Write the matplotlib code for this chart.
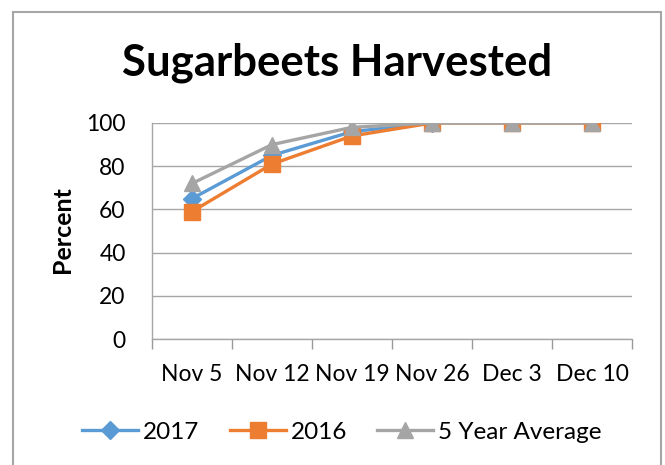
import matplotlib.pyplot as plt
import numpy as np
from matplotlib.patches import Rectangle

# weekly progress, percent harvested
weeks = ['Nov 5', 'Nov 12', 'Nov 19', 'Nov 26', 'Dec 3', 'Dec 10']
y2017 = [65, 85, 96, 100, np.nan, np.nan]
y2016 = [59, 81, 94, 100, 100, 100]
avg5 = [72, 90, 98, 100, 100, 100]
yticks = [0, 20, 40, 60, 80, 100]

plt.rcParams['font.family'] = ['Lato', 'DejaVu Sans']

fig = plt.figure(figsize=(6.65, 4.65), dpi=100)
ax = fig.add_axes([152/665, 1-339/465, 480/665, 216/465])

x = np.arange(len(weeks))
ax.plot(x, y2017, color='#5B9BD5', lw=2.4, marker='D', ms=9, label='2017', zorder=3)
ax.plot(x, y2016, color='#ED7D31', lw=2.4, marker='s', ms=11, label='2016', zorder=4)
ax.plot(x, avg5, color='#A5A5A5', lw=2.4, marker='^', ms=11.5, label='5 Year Average', zorder=5)

ax.set_xlim(-0.5, len(weeks) - 0.5)
ax.set_ylim(0, 100)
ax.set_yticks(yticks)
ax.set_xticks(x)
ax.set_xticklabels(weeks)
ax.set_xticks(np.arange(len(weeks) + 1) - 0.5, minor=True)
ax.tick_params(axis='x', which='major', length=0, pad=18, labelsize=16.5)
ax.tick_params(axis='x', which='minor', length=7, color='#999999', width=1)
ax.tick_params(axis='y', length=0, pad=19, labelsize=16.5)

ax.grid(axis='y', color='#A6A6A6', lw=1)
ax.set_axisbelow(True)
for s in ['top', 'right']:
    ax.spines[s].set_visible(False)
for s in ['left', 'bottom']:
    ax.spines[s].set_color('#A6A6A6')
    ax.spines[s].set_linewidth(1)

fig.text(337/665, 1-63/465, 'Sugarbeets Harvested', ha='center', va='center',
         fontsize=31.5, fontweight='bold')
fig.text(63/665, 1-230/465, 'Percent', ha='center', va='center', rotation=90,
         fontsize=18, fontweight='bold')

fig.legend(loc='center', bbox_to_anchor=(342/665, 1-432/465), ncol=3, frameon=False,
           fontsize=17.5, handlelength=2.3, handletextpad=0.2, columnspacing=1.25)

# chart border
fig.patches.append(Rectangle((13/665, -0.05), 648/665, 1.05-12/465, transform=fig.transFigure,
                             fill=False, edgecolor='#A6A6A6', lw=1.5))

fig.savefig('out.png', dpi=100)
